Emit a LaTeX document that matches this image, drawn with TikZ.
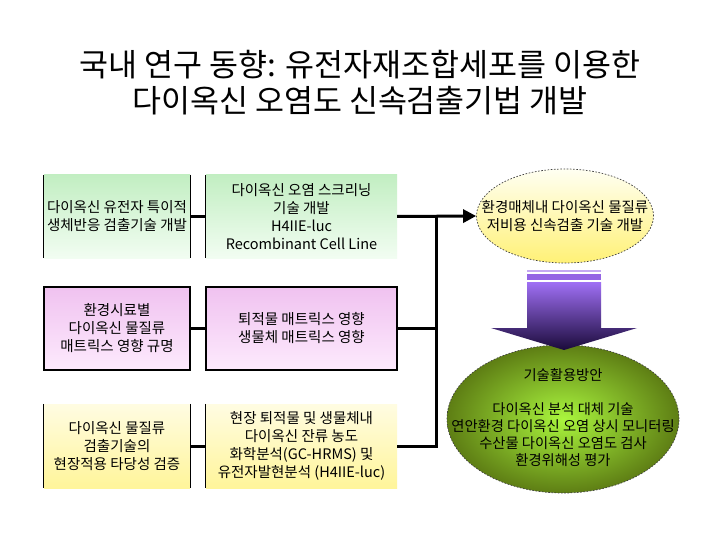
\documentclass[tikz,border=0pt]{standalone}
\usepackage{fontspec}
\setmainfont{Noto Sans CJK KR}
\usetikzlibrary{shapes.geometric,arrows.meta}
\definecolor{gtop}{HTML}{C2EEC2}
\definecolor{gbot}{HTML}{F2FDF2}
\definecolor{mtop}{HTML}{F0C2F0}
\definecolor{mbot}{HTML}{FDEAFD}
\definecolor{ytop}{HTML}{FFFCE2}
\definecolor{ybot}{HTML}{FFF59A}
\definecolor{etop}{HTML}{FFFFF2}
\definecolor{ebot}{HTML}{FFF176}
\definecolor{ptop}{HTML}{A070F5}
\definecolor{pbot}{HTML}{1A0A3A}
\definecolor{pstripe}{HTML}{9464E4}
\definecolor{pthin}{HTML}{C4A8F2}
\definecolor{lime}{HTML}{AAF63E}
\definecolor{olive}{HTML}{5E7E14}
\begin{document}
\begin{tikzpicture}[x=1pt,y=-1pt,
  boxtxt/.style={font=\fontsize{14.5}{18}\selectfont, align=center, inner sep=0pt},
  gbox/.style={boxtxt, minimum height=83pt, top color=gtop, bottom color=gbot},
  mbox/.style={boxtxt, minimum height=83pt, top color=mtop, bottom color=mbot, draw=black, line width=1.2pt},
  ybox/.style={boxtxt, minimum height=84pt, top color=ytop, bottom color=ybot},
  leftw/.style={minimum width=146pt},
  midw/.style={minimum width=191pt},
  edge/.style={line width=1.2pt, draw=black},
  conn/.style={line width=3pt, draw=black},
  dashell/.style={ellipse, draw=black!75, line width=0.7pt, dash pattern=on 1.6pt off 1.6pt, inner sep=0pt},
  elltxt/.style={font=\fontsize{14.3}{17}\selectfont, align=center, inner sep=0pt}]
\useasboundingbox[fill=white] (0,0) rectangle (720,540);

% title
\node[font=\fontsize{31.5}{36}\selectfont, align=center, inner sep=0pt] (title) at (360,83)
  {국내 연구 동향: 유전자재조합세포를 이용한\\다이옥신 오염도 신속검출기법 개발};

% row 1
\node[gbox, leftw] (b1) at (117,216.5) {다이옥신 유전자 특이적\\생체반응 검출기술 개발};
\node[gbox, midw] (b2) at (301.5,216.5) {다이옥신 오염 스크리닝\\기술 개발\\H4IIE-luc\\Recombinant Cell Line};
% row 2
\node[mbox, leftw] (b3) at (117,328.5) {환경시료별\\다이옥신 물질류\\매트릭스 영향 규명};
\node[mbox, midw] (b4) at (301.5,328.5) {퇴적물 매트릭스 영향\\생물체 매트릭스 영향};
% row 3
\node[ybox, leftw] (b5) at (117,446) {다이옥신 물질류\\검출기술의\\현장적용 타당성 검증};
\node[ybox, midw] (b6) at (301.5,446) {현장 퇴적물 및 생물체내\\다이옥신 잔류 농도\\화학분석(GC-HRMS) 및\\유전자발현분석 (H4IIE-luc)};

% partial borders of green and yellow boxes
\draw[edge] (b1.north west) -- (b1.south west) (b1.north east) -- (b1.south east);
\draw[edge] (b2.north west) -- (b2.south west);
\draw[edge] (b5.north west) -- (b5.south west) (b5.north east) -- (b5.south east);
\draw[edge] (b6.north west) -- (b6.south west);

% ellipses
\node[dashell, minimum width=177pt, minimum height=94pt, top color=etop, bottom color=ebot] (e1) at (565,216) {};
\node[elltxt, font=\fontsize{14.5}{17.5}\selectfont] (t1) at (e1.center) {환경매체내 다이옥신 물질류\\저비용 신속검출 기술 개발};

\node[dashell, minimum width=232pt, minimum height=148pt, inner color=lime, outer color=olive] (e2) at (563,419) {};
\node[elltxt] (t2) at (563,418) {기술활용방안\\[17pt]다이옥신 분석 대체 기술\\연안환경 다이옥신 오염 상시 모니터링\\수산물 다이옥신 오염도 검사\\환경위해성 평가};

% purple block arrow
\fill[pthin] (527,269.5) rectangle (601,271.5);
\fill[pstripe] (527,274) rectangle (601,279.5);
\shade[top color=ptop, bottom color=pbot]
  (527,282) -- (601,282) -- (601,328) -- (637,328) -- (564,350) -- (491,328) -- (527,328) -- cycle;

% connectors
\coordinate (bus1) at (436,216.5);
\coordinate (bus2) at (436,328.5);
\coordinate (bus3) at (436,446);
\draw[conn] (b1.east) -- (b2.west);
\draw[conn] (b3.east) -- (b4.west);
\draw[conn] (b5.east) -- (b6.west);
\draw[conn] (b4.east) -- (bus2);
\draw[conn] (b6.east) -- (bus3) -- (bus1);
\draw[conn, -{Triangle[length=13pt,width=13pt]}] (b2.east) -- (e1.west);
\end{tikzpicture}
\end{document}
